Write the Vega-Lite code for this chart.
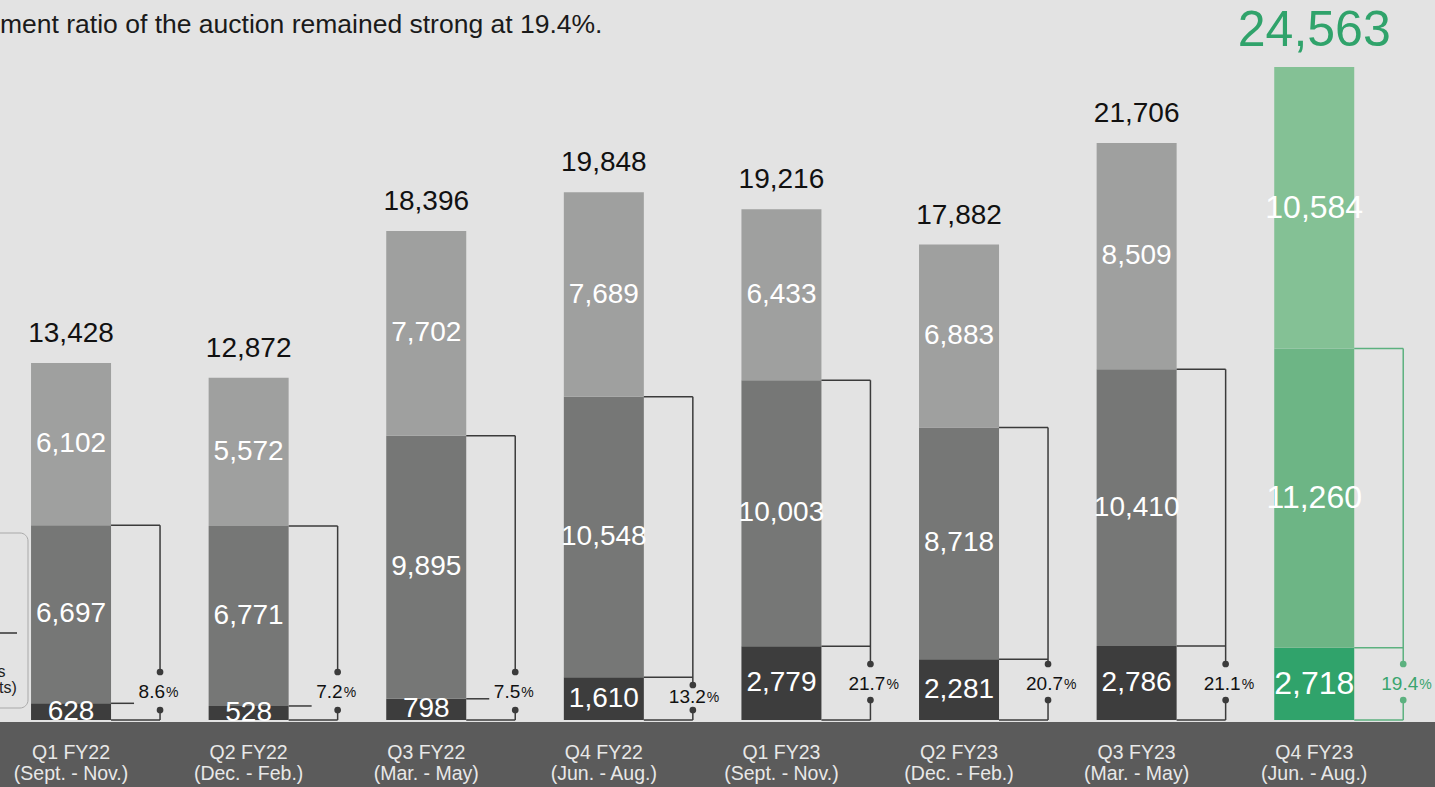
{
 "$schema": "https://vega.github.io/schema/vega-lite/v6.json",
 "width": 1435, "height": 787, "padding": 0, "autosize": {"type": "none"},
 "background": "#e3e3e3",
 "config": {"view": {"stroke": null}, "text": {"font": "Liberation Sans"}},
 "datasets": {"q": [
  {"i": 1, "q": "Q1 FY22", "m": "(Sept. - Nov.)", "dark": 628, "mid": 6697, "top": 6102, "total": 13428, "pct": 8.6, "g": false},
  {"i": 2, "q": "Q2 FY22", "m": "(Dec. - Feb.)", "dark": 528, "mid": 6771, "top": 5572, "total": 12872, "pct": 7.2, "g": false},
  {"i": 3, "q": "Q3 FY22", "m": "(Mar. - May)", "dark": 798, "mid": 9895, "top": 7702, "total": 18396, "pct": 7.5, "g": false},
  {"i": 4, "q": "Q4 FY22", "m": "(Jun. - Aug.)", "dark": 1610, "mid": 10548, "top": 7689, "total": 19848, "pct": 13.2, "g": false},
  {"i": 5, "q": "Q1 FY23", "m": "(Sept. - Nov.)", "dark": 2779, "mid": 10003, "top": 6433, "total": 19216, "pct": 21.7, "g": false},
  {"i": 6, "q": "Q2 FY23", "m": "(Dec. - Feb.)", "dark": 2281, "mid": 8718, "top": 6883, "total": 17882, "pct": 20.7, "g": false},
  {"i": 7, "q": "Q3 FY23", "m": "(Mar. - May)", "dark": 2786, "mid": 10410, "top": 8509, "total": 21706, "pct": 21.1, "g": false},
  {"i": 8, "q": "Q4 FY23", "m": "(Jun. - Aug.)", "dark": 2718, "mid": 11260, "top": 10584, "total": 24563, "pct": 19.4, "g": true}
 ]},
 "data": {"name": "q"},
 "encoding": {"x": {"field": "i", "type": "quantitative", "scale": {"domain": [0.6, 8.68], "nice": false, "zero": false, "padding": 0}, "axis": null}},
 "layer": [
  {
   "transform": [
    {"fold": ["dark", "mid", "top"], "as": ["key", "value"]},
    {"stack": "value", "groupby": ["i"], "sort": [{"field": "key"}], "as": ["v0", "v1"]}
   ],
   "mark": {"type": "bar", "width": 80},
   "encoding": {
    "y": {"field": "v0", "type": "quantitative", "scale": {"domain": [-2520, 27083], "nice": false, "zero": false}, "axis": null},
    "y2": {"field": "v1"},
    "color": {"condition": [
      {"test": "datum.g && datum.key == 'dark'", "value": "#30a36b"},
      {"test": "datum.g && datum.key == 'mid'", "value": "#6db585"},
      {"test": "datum.g", "value": "#84c195"},
      {"test": "datum.key == 'dark'", "value": "#3d3d3d"},
      {"test": "datum.key == 'mid'", "value": "#767776"}
     ], "value": "#9fa09f"}
   }
  },
  {
   "transform": [
    {"fold": ["dark", "mid", "top"], "as": ["key", "value"]},
    {"stack": "value", "groupby": ["i"], "sort": [{"field": "key"}], "as": ["v0", "v1"]},
    {"fold": ["v0", "v1"], "as": ["e", "ev"]},
    {"aggregate": [{"op": "mean", "field": "ev", "as": "ym"}], "groupby": ["i", "key", "value", "g"]}
   ],
   "mark": {"type": "text", "color": "#ffffff", "align": "center", "baseline": "middle"},
   "encoding": {
    "y": {"field": "ym", "type": "quantitative", "scale": {"domain": [-2520, 27083], "nice": false, "zero": false}, "axis": null},
    "text": {"field": "value", "type": "quantitative", "format": ","},
    "size": {"condition": {"test": "datum.g", "value": 32}, "value": 28}
   }
  },
  {
   "transform": [{"filter": "!datum.g"}],
   "mark": {"type": "text", "color": "#111111", "fontSize": 28, "align": "center", "baseline": "middle", "yOffset": -29},
   "encoding": {
    "y": {"field": "total", "type": "quantitative", "scale": {"domain": [-2520, 27083], "nice": false, "zero": false}, "axis": null},
    "text": {"field": "total", "type": "quantitative", "format": ","}
   }
  },
  {
   "transform": [{"filter": "datum.g"}],
   "mark": {"type": "text", "color": "#30a36b", "fontSize": 50, "align": "center", "baseline": "middle", "yOffset": -36},
   "encoding": {
    "y": {"field": "total", "type": "quantitative", "scale": {"domain": [-2520, 27083], "nice": false, "zero": false}, "axis": null},
    "text": {"field": "total", "type": "quantitative", "format": ","}
   }
  },
  {
   "transform": [
    {"fold": ["dark", "mid"], "as": ["key", "value"]},
    {"aggregate": [{"op": "sum", "field": "value", "as": "dm"}], "groupby": ["i", "g", "dark"]}
   ],
   "mark": {"type": "rule", "strokeWidth": 1.5, "xOffset": 40, "x2Offset": 89},
   "encoding": {
    "x2": {"field": "i"},
    "y": {"field": "dm", "type": "quantitative", "scale": {"domain": [-2520, 27083], "nice": false, "zero": false}, "axis": null},
    "color": {"condition": {"test": "datum.g", "value": "#5cb17f"}, "value": "#3b3b3b"}
   }
  },
  {
   "mark": {"type": "rule", "strokeWidth": 1.5, "xOffset": 40, "x2Offset": 89},
   "encoding": {
    "x2": {"field": "i"},
    "y": {"datum": 0, "type": "quantitative", "scale": {"domain": [-2520, 27083], "nice": false, "zero": false}, "axis": null},
    "color": {"condition": {"test": "datum.g", "value": "#5cb17f"}, "value": "#3b3b3b"}
   }
  },
  {
   "transform": [{"filter": "datum.dark < 1000"}],
   "mark": {"type": "rule", "strokeWidth": 1.5, "xOffset": 40, "x2Offset": 63},
   "encoding": {
    "x2": {"field": "i"},
    "y": {"field": "dark", "type": "quantitative", "scale": {"domain": [-2520, 27083], "nice": false, "zero": false}, "axis": null},
    "color": {"condition": {"test": "datum.g", "value": "#5cb17f"}, "value": "#3b3b3b"}
   }
  },
  {
   "transform": [{"filter": "datum.dark >= 1000"}],
   "mark": {"type": "rule", "strokeWidth": 1.5, "xOffset": 40, "x2Offset": 89},
   "encoding": {
    "x2": {"field": "i"},
    "y": {"field": "dark", "type": "quantitative", "scale": {"domain": [-2520, 27083], "nice": false, "zero": false}, "axis": null},
    "color": {"condition": {"test": "datum.g", "value": "#5cb17f"}, "value": "#3b3b3b"}
   }
  },
  {
   "transform": [{"filter": "datum.dark < 1000"}],
   "layer": [
    {
     "transform": [
      {"fold": ["dark", "mid"], "as": ["key", "value"]},
      {"aggregate": [{"op": "sum", "field": "value", "as": "dm"}], "groupby": ["i", "g"]}
     ],
     "mark": {"type": "rule", "strokeWidth": 1.5, "xOffset": 89, "y2Offset": -48},
     "encoding": {
      "y": {"field": "dm", "type": "quantitative", "scale": {"domain": [-2520, 27083], "nice": false, "zero": false}, "axis": null},
      "y2": {"datum": 0},
      "color": {"condition": {"test": "datum.g", "value": "#5cb17f"}, "value": "#3b3b3b"}
     }
    },
    {
     "mark": {"type": "rule", "strokeWidth": 1.5, "xOffset": 89, "yOffset": -10},
     "encoding": {
      "y": {"datum": 0, "type": "quantitative", "scale": {"domain": [-2520, 27083], "nice": false, "zero": false}, "axis": null},
      "y2": {"datum": 0},
      "color": {"condition": {"test": "datum.g", "value": "#5cb17f"}, "value": "#3b3b3b"}
     }
    },
    {
     "mark": {"type": "point", "filled": true, "opacity": 1, "size": 45, "xOffset": 89, "yOffset": -48},
     "encoding": {
      "y": {"datum": 0, "type": "quantitative", "scale": {"domain": [-2520, 27083], "nice": false, "zero": false}, "axis": null},
      "color": {"condition": {"test": "datum.g", "value": "#5cb17f"}, "value": "#3b3b3b"}
     }
    },
    {
     "mark": {"type": "point", "filled": true, "opacity": 1, "size": 45, "xOffset": 89, "yOffset": -10},
     "encoding": {
      "y": {"datum": 0, "type": "quantitative", "scale": {"domain": [-2520, 27083], "nice": false, "zero": false}, "axis": null},
      "color": {"condition": {"test": "datum.g", "value": "#5cb17f"}, "value": "#3b3b3b"}
     }
    },
    {
     "mark": {"type": "text", "fontSize": 19, "align": "right", "baseline": "middle", "xOffset": 94, "yOffset": -28},
     "encoding": {
      "y": {"datum": 0, "type": "quantitative", "scale": {"domain": [-2520, 27083], "nice": false, "zero": false}, "axis": null},
      "text": {"field": "pct", "type": "quantitative", "format": ".1f"},
      "color": {"condition": {"test": "datum.g", "value": "#3aa56f"}, "value": "#111111"}
     }
    },
    {
     "mark": {"type": "text", "fontSize": 14, "align": "left", "baseline": "middle", "xOffset": 95, "yOffset": -27, "text": "%"},
     "encoding": {
      "y": {"datum": 0, "type": "quantitative", "scale": {"domain": [-2520, 27083], "nice": false, "zero": false}, "axis": null},
      "color": {"condition": {"test": "datum.g", "value": "#3aa56f"}, "value": "#111111"}
     }
    }
   ]
  },
  {
   "transform": [{"filter": "datum.dark >= 1000 && datum.dark < 2000"}],
   "layer": [
    {
     "transform": [
      {"fold": ["dark", "mid"], "as": ["key", "value"]},
      {"aggregate": [{"op": "sum", "field": "value", "as": "dm"}], "groupby": ["i", "g"]}
     ],
     "mark": {"type": "rule", "strokeWidth": 1.5, "xOffset": 89, "y2Offset": -35},
     "encoding": {
      "y": {"field": "dm", "type": "quantitative", "scale": {"domain": [-2520, 27083], "nice": false, "zero": false}, "axis": null},
      "y2": {"datum": 0},
      "color": {"condition": {"test": "datum.g", "value": "#5cb17f"}, "value": "#3b3b3b"}
     }
    },
    {
     "mark": {"type": "rule", "strokeWidth": 1.5, "xOffset": 89, "yOffset": -10},
     "encoding": {
      "y": {"datum": 0, "type": "quantitative", "scale": {"domain": [-2520, 27083], "nice": false, "zero": false}, "axis": null},
      "y2": {"datum": 0},
      "color": {"condition": {"test": "datum.g", "value": "#5cb17f"}, "value": "#3b3b3b"}
     }
    },
    {
     "mark": {"type": "point", "filled": true, "opacity": 1, "size": 45, "xOffset": 89, "yOffset": -35},
     "encoding": {
      "y": {"datum": 0, "type": "quantitative", "scale": {"domain": [-2520, 27083], "nice": false, "zero": false}, "axis": null},
      "color": {"condition": {"test": "datum.g", "value": "#5cb17f"}, "value": "#3b3b3b"}
     }
    },
    {
     "mark": {"type": "point", "filled": true, "opacity": 1, "size": 45, "xOffset": 89, "yOffset": -10},
     "encoding": {
      "y": {"datum": 0, "type": "quantitative", "scale": {"domain": [-2520, 27083], "nice": false, "zero": false}, "axis": null},
      "color": {"condition": {"test": "datum.g", "value": "#5cb17f"}, "value": "#3b3b3b"}
     }
    },
    {
     "mark": {"type": "text", "fontSize": 19, "align": "right", "baseline": "middle", "xOffset": 102, "yOffset": -23},
     "encoding": {
      "y": {"datum": 0, "type": "quantitative", "scale": {"domain": [-2520, 27083], "nice": false, "zero": false}, "axis": null},
      "text": {"field": "pct", "type": "quantitative", "format": ".1f"},
      "color": {"condition": {"test": "datum.g", "value": "#3aa56f"}, "value": "#111111"}
     }
    },
    {
     "mark": {"type": "text", "fontSize": 14, "align": "left", "baseline": "middle", "xOffset": 103, "yOffset": -22, "text": "%"},
     "encoding": {
      "y": {"datum": 0, "type": "quantitative", "scale": {"domain": [-2520, 27083], "nice": false, "zero": false}, "axis": null},
      "color": {"condition": {"test": "datum.g", "value": "#3aa56f"}, "value": "#111111"}
     }
    }
   ]
  },
  {
   "transform": [{"filter": "datum.dark >= 2000"}],
   "layer": [
    {
     "transform": [
      {"fold": ["dark", "mid"], "as": ["key", "value"]},
      {"aggregate": [{"op": "sum", "field": "value", "as": "dm"}], "groupby": ["i", "g"]}
     ],
     "mark": {"type": "rule", "strokeWidth": 1.5, "xOffset": 89, "y2Offset": -56},
     "encoding": {
      "y": {"field": "dm", "type": "quantitative", "scale": {"domain": [-2520, 27083], "nice": false, "zero": false}, "axis": null},
      "y2": {"datum": 0},
      "color": {"condition": {"test": "datum.g", "value": "#5cb17f"}, "value": "#3b3b3b"}
     }
    },
    {
     "mark": {"type": "rule", "strokeWidth": 1.5, "xOffset": 89, "yOffset": -20},
     "encoding": {
      "y": {"datum": 0, "type": "quantitative", "scale": {"domain": [-2520, 27083], "nice": false, "zero": false}, "axis": null},
      "y2": {"datum": 0},
      "color": {"condition": {"test": "datum.g", "value": "#5cb17f"}, "value": "#3b3b3b"}
     }
    },
    {
     "mark": {"type": "point", "filled": true, "opacity": 1, "size": 45, "xOffset": 89, "yOffset": -56},
     "encoding": {
      "y": {"datum": 0, "type": "quantitative", "scale": {"domain": [-2520, 27083], "nice": false, "zero": false}, "axis": null},
      "color": {"condition": {"test": "datum.g", "value": "#5cb17f"}, "value": "#3b3b3b"}
     }
    },
    {
     "mark": {"type": "point", "filled": true, "opacity": 1, "size": 45, "xOffset": 89, "yOffset": -20},
     "encoding": {
      "y": {"datum": 0, "type": "quantitative", "scale": {"domain": [-2520, 27083], "nice": false, "zero": false}, "axis": null},
      "color": {"condition": {"test": "datum.g", "value": "#5cb17f"}, "value": "#3b3b3b"}
     }
    },
    {
     "mark": {"type": "text", "fontSize": 19, "align": "right", "baseline": "middle", "xOffset": 104, "yOffset": -36},
     "encoding": {
      "y": {"datum": 0, "type": "quantitative", "scale": {"domain": [-2520, 27083], "nice": false, "zero": false}, "axis": null},
      "text": {"field": "pct", "type": "quantitative", "format": ".1f"},
      "color": {"condition": {"test": "datum.g", "value": "#3aa56f"}, "value": "#111111"}
     }
    },
    {
     "mark": {"type": "text", "fontSize": 14, "align": "left", "baseline": "middle", "xOffset": 105, "yOffset": -35, "text": "%"},
     "encoding": {
      "y": {"datum": 0, "type": "quantitative", "scale": {"domain": [-2520, 27083], "nice": false, "zero": false}, "axis": null},
      "color": {"condition": {"test": "datum.g", "value": "#3aa56f"}, "value": "#111111"}
     }
    }
   ]
  },
  {
   "data": {"values": [{"x0": 0.6, "x1": 8.68, "y0": -2520, "y1": -75}]},
   "mark": {"type": "rect", "color": "#5b5b5b"},
   "encoding": {
    "x": {"field": "x0", "type": "quantitative"},
    "x2": {"field": "x1"},
    "y": {"field": "y0", "type": "quantitative", "scale": {"domain": [-2520, 27083], "nice": false, "zero": false}, "axis": null},
    "y2": {"field": "y1"}
   }
  },
  {
   "mark": {"type": "text", "fontSize": 19.5, "color": "#e8e8e8", "align": "center", "baseline": "middle", "yOffset": 33},
   "encoding": {
    "y": {"datum": 0, "type": "quantitative", "scale": {"domain": [-2520, 27083], "nice": false, "zero": false}, "axis": null},
    "text": {"field": "q"}
   }
  },
  {
   "mark": {"type": "text", "fontSize": 19.5, "color": "#e8e8e8", "align": "center", "baseline": "middle", "yOffset": 54},
   "encoding": {
    "y": {"datum": 0, "type": "quantitative", "scale": {"domain": [-2520, 27083], "nice": false, "zero": false}, "axis": null},
    "text": {"field": "m"}
   }
  },
  {
   "data": {"values": [{"x0": 0.5, "x1": 0.7577, "y0": 7034, "y1": 451}]},
   "mark": {"type": "rect", "filled": false, "stroke": "#a9a9a9", "strokeWidth": 1, "cornerRadius": 8},
   "encoding": {
    "x": {"field": "x0", "type": "quantitative"},
    "x2": {"field": "x1"},
    "y": {"field": "y0", "type": "quantitative", "scale": {"domain": [-2520, 27083], "nice": false, "zero": false}, "axis": null},
    "y2": {"field": "y1"}
   }
  },
  {
   "data": {"values": [{"x0": 0.5, "x1": 0.6957, "y0": 3273}]},
   "mark": {"type": "rule", "color": "#333333", "strokeWidth": 1.5},
   "encoding": {
    "x": {"field": "x0", "type": "quantitative"},
    "x2": {"field": "x1"},
    "y": {"field": "y0", "type": "quantitative", "scale": {"domain": [-2520, 27083], "nice": false, "zero": false}, "axis": null}
   }
  },
  {
   "data": {"values": [{"t": "Items", "x": 0.6315, "y": 1806}, {"t": "(thousand units)", "x": 0.6951, "y": 1204}]},
   "mark": {"type": "text", "fontSize": 16, "color": "#222222", "align": "right", "baseline": "middle"},
   "encoding": {
    "x": {"field": "x", "type": "quantitative"},
    "y": {"field": "y", "type": "quantitative", "scale": {"domain": [-2520, 27083], "nice": false, "zero": false}, "axis": null},
    "text": {"field": "t"}
   }
  },
  {
   "data": {"values": [{"t": "ment ratio of the auction remained strong at 19.4%.", "x": 0.6, "y": 26143}]},
   "mark": {"type": "text", "fontSize": 26.5, "color": "#1a1a1a", "align": "left", "baseline": "middle"},
   "encoding": {
    "x": {"field": "x", "type": "quantitative"},
    "y": {"field": "y", "type": "quantitative", "scale": {"domain": [-2520, 27083], "nice": false, "zero": false}, "axis": null},
    "text": {"field": "t"}
   }
  }
]
}
